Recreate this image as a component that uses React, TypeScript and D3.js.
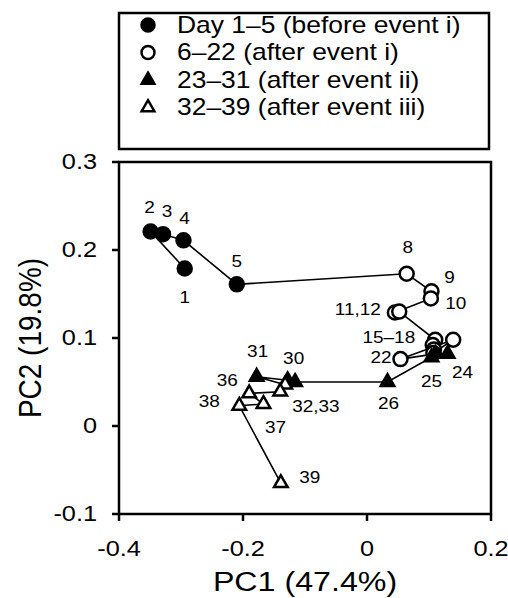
import React from "react";
import * as d3 from "d3";

// sampling days (weekends were not sampled)
const days = [1, 2, 3, 4, 5, 8, 9, 10, 11, 12, 15, 16, 17, 18, 19, 22, 23, 24, 25, 26, 29, 30, 31, 32, 33, 36, 37, 38, 39];
const pc1 = [
  -0.294, -0.349, -0.329, -0.296, -0.21,
  0.064, 0.104, 0.103, 0.045, 0.052, 0.11, 0.106, 0.108, 0.107, 0.139, 0.054,
  0.11, 0.13, 0.104, 0.033, -0.116, -0.128, -0.178,
  -0.132, -0.14, -0.19, -0.167, -0.206, -0.139,
];
const pc2 = [
  0.179, 0.221, 0.218, 0.211, 0.161,
  0.173, 0.153, 0.145, 0.129, 0.13, 0.098, 0.092, 0.087, 0.083, 0.098, 0.076,
  0.082, 0.082, 0.078, 0.05, 0.05, 0.052, 0.056,
  0.047, 0.039, 0.037, 0.025, 0.023, -0.065,
];

// groups: last day of each period
const groupEnds = [5, 22, 31, 39];
const groupNames = [
  "Day 1\u20135 (before event i)",
  "6\u201322 (after event i)",
  "23\u201331 (after event ii)",
  "32\u201339 (after event iii)",
];

const xTicks = [-0.4, -0.2, 0, 0.2];
const yTicks = [-0.1, 0, 0.1, 0.2, 0.3];

// point labels: text, day it sits next to
const pointLabels = [
  { text: "1", day: 1 }, { text: "2", day: 2 }, { text: "3", day: 3 }, { text: "4", day: 4 },
  { text: "5", day: 5 }, { text: "8", day: 8 }, { text: "9", day: 9 }, { text: "10", day: 10 },
  { text: "11,12", day: 11 }, { text: "15\u201318", day: 15 }, { text: "22", day: 22 },
  { text: "24", day: 24 }, { text: "25", day: 25 }, { text: "26", day: 26 },
  { text: "30", day: 30 }, { text: "31", day: 31 }, { text: "32,33", day: 32 },
  { text: "36", day: 36 }, { text: "37", day: 37 }, { text: "38", day: 38 }, { text: "39", day: 39 },
];

// where each label goes relative to its point (px)
const labelOffset: Record<string, [number, number, string]> = {
  "1": [0, 29, "middle"], "2": [-1, -24, "middle"], "3": [4, -23, "middle"], "4": [1, -22, "middle"],
  "5": [0, -23, "middle"], "8": [1, -26, "middle"], "9": [18, -14, "middle"], "10": [25, 5, "middle"],
  "11,12": [-14, -3, "end"], "15\u201318": [-20, -2, "end"], "22": [-9, -2, "end"],
  "24": [15, 19, "middle"], "25": [0, 24, "middle"], "26": [1, 21, "middle"],
  "30": [6, -22, "middle"], "31": [1, -25, "middle"], "32,33": [7, 22, "start"],
  "36": [-22, -13, "middle"], "37": [12, 23, "middle"], "38": [-30, -4, "middle"], "39": [29, -6, "middle"],
};

const W = 508;
const H = 598;
const left = 119;
const right = 491;
const top = 162;
const bottom = 514;
const font = "'Liberation Sans', Arial, Helvetica, sans-serif";
// the original figure's type is a bit wider than Liberation Sans
const stretch = 1.15;

const groupOf = (day: number) => groupEnds.findIndex((e) => day <= e);

function T({ x, y, size, anchor = "start", baseline, rotate = 0, children }: any) {
  return (
    <g transform={`translate(${x},${y}) scale(${stretch},1) rotate(${rotate})`}>
      <text textAnchor={anchor} dominantBaseline={baseline} fontSize={size}>
        {children}
      </text>
    </g>
  );
}

function Marker({ g, x, y, r = 7, tri = 80 }: { g: number; x: number; y: number; r?: number; tri?: number }) {
  const fill = g === 0 || g === 2 ? "#000" : "#fff";
  if (g < 2) {
    return <circle cx={x} cy={y} r={r} fill={fill} stroke="#000" strokeWidth={2.5} />;
  }
  const path = d3.symbol(d3.symbolTriangle, tri)() as string;
  return (
    <path d={path} transform={`translate(${x},${y})`} fill={fill} stroke="#000" strokeWidth={2.5} />
  );
}

export default function App() {
  const x = d3.scaleLinear().domain([-0.4, 0.2]).range([left, right]);
  const y = d3.scaleLinear().domain([-0.1, 0.3]).range([bottom, top]);

  const pts = days.map((d, i) => ({ day: d, x: x(pc1[i]), y: y(pc2[i]), g: groupOf(d) }));
  const line = d3
    .line<{ x: number; y: number }>()
    .x((p) => p.x)
    .y((p) => p.y)(pts) as string;

  const byDay = new Map(pts.map((p) => [p.day, p]));

  return (
    <div style={{ position: "fixed", left: 0, top: 0 }}>
      <svg width={W} height={H} style={{ display: "block", background: "#fff" }} fontFamily={font}>
        {/* legend */}
        <rect x={119} y={13} width={370} height={136} fill="#fff" stroke="#000" strokeWidth={2.5} />
        {groupNames.map((name, i) => {
          const cy = 25 + i * 27.5;
          return (
            <g key={name}>
              <Marker g={i} x={148} y={cy} r={6.5} tri={70} />
              <T x={177} y={cy} size={23} baseline="central">
                {name}
              </T>
            </g>
          );
        })}

        {/* frame */}
        <rect x={left} y={top} width={right - left} height={bottom - top} fill="none" stroke="#000" strokeWidth={2.5} />

        {/* y axis ticks */}
        {yTicks.map((t) => (
          <g key={"y" + t}>
            <line x1={left - 7} x2={left} y1={y(t)} y2={y(t)} stroke="#000" strokeWidth={2.5} />
            <T x={97} y={y(t)} size={22} anchor="end" baseline="central">
              {String(t)}
            </T>
          </g>
        ))}
        {/* x axis ticks */}
        {xTicks.map((t) => (
          <g key={"x" + t}>
            <line x1={x(t)} x2={x(t)} y1={bottom} y2={bottom + 7} stroke="#000" strokeWidth={2.5} />
            <T x={x(t)} y={556} size={22} anchor="middle">
              {String(t)}
            </T>
          </g>
        ))}

        <T x={(left + right) / 2} y={591} size={28} anchor="middle">
          PC1 (47.4%)
        </T>
        <T x={30} y={(top + bottom) / 2} size={28} anchor="middle" baseline="central" rotate={-90}>
          PC2 (19.8%)
        </T>

        {/* trajectory */}
        <path d={line} fill="none" stroke="#000" strokeWidth={1.6} />
        {pts.map((p) => (
          <Marker key={p.day} g={p.g} x={p.x} y={p.y} />
        ))}

        {/* point labels */}
        {pointLabels.map((l) => {
          const p = byDay.get(l.day)!;
          const [dx, dy, anchor] = labelOffset[l.text];
          return (
            <T key={l.text} x={p.x + dx} y={p.y + dy} size={16.5} anchor={anchor} baseline="central">
              {l.text}
            </T>
          );
        })}
      </svg>
    </div>
  );
}
